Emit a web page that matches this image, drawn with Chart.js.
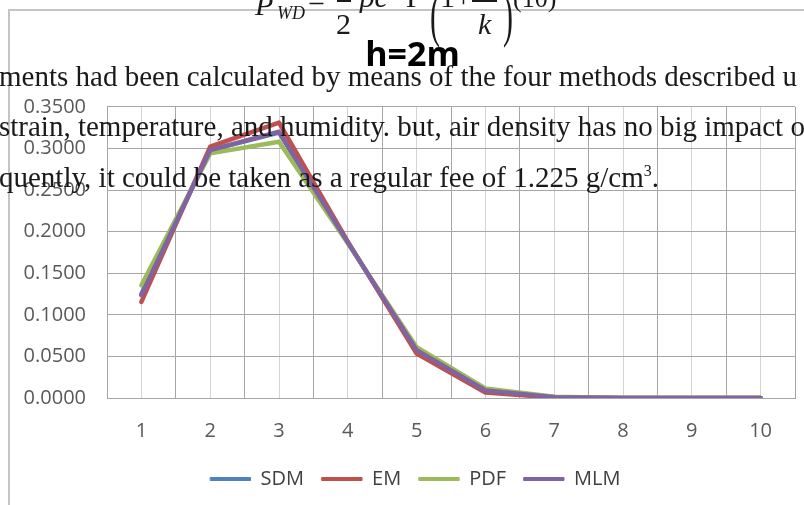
<!DOCTYPE html>
<html>
<head>
<meta charset="utf-8">
<script src="https://cdn.jsdelivr.net/npm/chart.js@4.4.1/dist/chart.umd.min.js"></script>
<style>
    body { margin: 0; background: #fff; }
    #wrap { position: relative; width: 804px; height: 505px; overflow: hidden; background: #fff; }
    #marco { position: absolute; left: 8px; top: 9px; width: 900px; height: 600px; border: 2px solid #c4c4c4; }
    #line-chart { position: absolute; left: 0; top: 0; }
    .txt { position: absolute; white-space: nowrap; font-family: 'Liberation Serif', serif; color: #1a1a1a; line-height: 1; pointer-events: none; }
    .it { font-style: italic; }
</style>
</head>
<body>
<div id="wrap">
    <div id="marco"></div>
    <canvas id="line-chart" width="804" height="505"></canvas>

    <!-- formula cut off at the top -->
    <span class="txt it" style="left:255px; top:-10px; font-size:30px;">P</span>
    <span class="txt it" style="left:277px; top:4px; font-size:18px;">WD</span>
    <span class="txt" style="left:308px; top:-14px; font-size:30px;">=</span>
    <span class="txt" style="left:337px; top:0px; width:14px; height:0; border-top:2px solid #1a1a1a;"></span>
    <span class="txt" style="left:336px; top:9px; font-size:30px;">2</span>
    <span class="txt it" style="left:360px; top:-18px; font-size:30px;">ρc</span>
    <span class="txt" style="left:406px; top:-18px; font-size:30px;">Γ</span>
    <span class="txt" style="left:425px; top:-15px; font-size:60px; font-weight:100; transform:scaleX(0.5);">(</span>
    <span class="txt" style="left:440px; top:-18px; font-size:30px;">1+</span>
    <span class="txt" style="left:472px; top:0px; width:25px; height:0; border-top:2px solid #1a1a1a;"></span>
    <span class="txt it" style="left:478px; top:9px; font-size:30px;">k</span>
    <span class="txt" style="left:498px; top:-15px; font-size:60px; font-weight:100; transform:scaleX(0.5);">)</span>
    <span class="txt" style="left:513px; top:-14px; font-size:26px;">(10)</span>

    <!-- paragraph lines behind the chart -->
    <div class="txt" style="left:-1px; top:62px; font-size:29px;">ments had been calculated by means of the four methods described u</div>
    <div class="txt" style="left:-1px; top:112px; font-size:29px;">strain, temperature, and humidity. but, air density has no big impact o</div>
    <div class="txt" style="left:-1px; top:163px; font-size:29px;">quently, it could be taken as a regular fee of 1.225 g/cm<sup style="font-size:16px;">3</sup>.</div>
</div>

<script>
var categorias = ['1', '2', '3', '4', '5', '6', '7', '8', '9', '10'];
var sdm = [0.1250, 0.2980, 0.3190, 0.1870, 0.0575, 0.0090, 0.0012, 0.0001, 0.0000, 0.0000];
var em  = [0.1155, 0.3020, 0.3310, 0.1880, 0.0535, 0.0065, 0.0006, 0.0000, 0.0000, 0.0000];
var pdf = [0.1355, 0.2940, 0.3080, 0.1860, 0.0610, 0.0115, 0.0015, 0.0001, 0.0000, 0.0000];
var mlm = [0.1235, 0.2980, 0.3200, 0.1870, 0.0575, 0.0090, 0.0010, 0.0000, 0.0000, 0.0000];
var yMax = 0.35;
var yPaso = 0.01;
var yPasoEtiqueta = 0.05;

function serie(nombre, datos, color, orden) {
    return {
        label: nombre,
        data: datos,
        borderColor: color,
        backgroundColor: color,
        borderWidth: 4.5,
        borderCapStyle: 'round',
        borderJoinStyle: 'round',
        pointRadius: 0,
        tension: 0,
        order: orden
    };
}

function esMayor(v) {
    return Math.round(v / yPaso) % Math.round(yPasoEtiqueta / yPaso) === 0;
}

// mueve un poco el titulo y la leyenda a la derecha, como en la imagen
var correrCajas = {
    id: 'correrCajas',
    afterLayout: function (chart) {
        if (chart.titleBlock) {
            chart.titleBlock.left += 10;
        }
        if (chart.legend) {
            chart.legend.left += 16;
        }
    }
};

var fuente = { family: "'Open Sans'", size: 20 };

new Chart(document.getElementById('line-chart'), {
    type: 'line',
    data: {
        labels: categorias,
        datasets: [
            serie('SDM', sdm, '#4F81BD', 3),
            serie('EM', em, '#C0504D', 2),
            serie('PDF', pdf, '#9BBB59', 1),
            serie('MLM', mlm, '#8064A2', 0)
        ]
    },
    plugins: [correrCajas],
    options: {
        responsive: false,
        animation: false,
        events: [],
        layout: { padding: { left: 20, right: 9, top: 10, bottom: 6 } },
        plugins: {
            title: {
                display: true,
                text: 'h=2m',
                color: '#000',
                font: { family: "'Open Sans'", size: 34, weight: 'bold' },
                padding: { top: 26, bottom: 30 }
            },
            legend: {
                position: 'bottom',
                labels: {
                    font: fuente,
                    color: '#404040',
                    boxWidth: 40,
                    boxHeight: 3,
                    padding: 18,
                    sort: function (a, b) { return a.datasetIndex - b.datasetIndex; },
                    generateLabels: function (chart) {
                        var items = Chart.defaults.plugins.legend.labels.generateLabels(chart);
                        for (var i in items) {
                            items[i].lineWidth = 1;
                        }
                        return items;
                    }
                }
            },
            tooltip: { enabled: false }
        },
        scales: {
            x: {
                type: 'category',
                offset: true,
                grid: { offset: true, color: '#a6a6a6', drawTicks: false },
                border: { color: '#a6a6a6' },
                ticks: { font: fuente, color: '#595959', padding: 21 },
                afterFit: function (s) { s.height = 53; }
            },
            x2: {
                type: 'category',
                labels: categorias,
                position: 'bottom',
                offset: true,
                grid: { offset: false, color: '#d4d4d4', drawTicks: false },
                border: { display: false },
                ticks: { display: false },
                afterFit: function (s) { s.height = 0; }
            },
            y: {
                min: 0,
                max: yMax,
                grid: {
                    drawTicks: false,
                    color: function (ctx) {
                        return esMayor(ctx.tick.value) ? '#a6a6a6' : '#d4d4d4';
                    }
                },
                border: { color: '#a6a6a6' },
                ticks: {
                    stepSize: yPaso,
                    autoSkip: false,
                    font: fuente,
                    color: '#595959',
                    padding: 21,
                    callback: function (v) {
                        return esMayor(v) ? v.toFixed(4) : null;
                    }
                },
                afterFit: function (s) { s.width = 87; }
            }
        }
    }
});
</script>
</body>
</html>
